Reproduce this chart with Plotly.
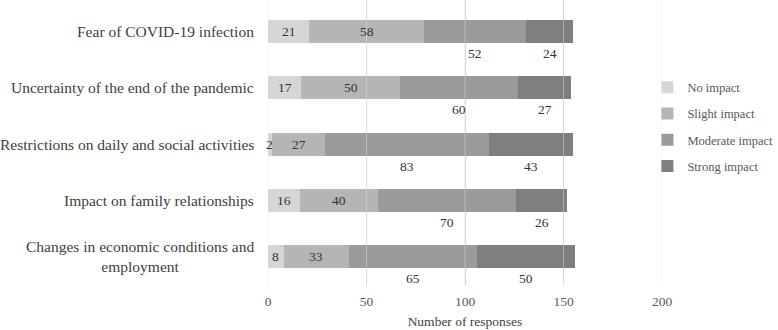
import plotly.graph_objects as go

categories = [
    "Fear of COVID-19 infection",
    "Uncertainty of the end of the pandemic",
    "Restrictions on daily and social activities",
    "Impact on family relationships",
    "Changes in economic conditions and<br>employment",
]
series_names = ["No impact", "Slight impact", "Moderate impact", "Strong impact"]
no_impact = [21, 17, 2, 16, 8]
slight_impact = [58, 50, 27, 40, 33]
moderate_impact = [52, 60, 83, 70, 65]
strong_impact = [24, 27, 43, 26, 50]
x_ticks = [0, 50, 100, 150, 200]

colors = ["#d6d6d6", "#b5b5b5", "#9b9b9b", "#7f7f7f"]
values = [no_impact, slight_impact, moderate_impact, strong_impact]
FONT = "Liberation Serif, Times New Roman, serif"

fig = go.Figure()
for name, vals, col in zip(series_names, values, colors):
    fig.add_trace(go.Bar(
        y=categories, x=vals, name=name, orientation="h",
        marker=dict(color=col, line=dict(width=0)),
        legendgroup=name, width=0.41,
    ))

annotations = []
for i, cat in enumerate(categories):
    cum = 0
    for s, vals in enumerate(values):
        v = vals[i]
        center = cum + v / 2
        cum += v
        annotations.append(dict(
            x=center, y=cat, xref="x", yref="y", text=str(v), showarrow=False,
            font=dict(family=FONT, size=13.5, color="#333333"),
            yshift=0 if s < 2 else -22,
        ))
    annotations.append(dict(
        x=0, y=cat, xref="paper", yref="y", text=cat, showarrow=False,
        xanchor="right", align="center", xshift=-12,
        font=dict(family=FONT, size=15.5, color="#404040"),
    ))

# gridlines shown through the bars (drawn over the traces, semi-transparent)
shapes = [
    dict(type="line", xref="x", yref="paper", x0=t, x1=t, y0=0, y1=1,
         line=dict(color="rgba(217,217,217,0.5)", width=1), layer="above")
    for t in x_ticks
]

fig.update_layout(
    width=778, height=330,
    margin=dict(l=268, r=116, t=0, b=45, autoexpand=False),
    barmode="stack",
    bargap=0.59,
    plot_bgcolor="white", paper_bgcolor="white",
    font=dict(family=FONT, size=13.5, color="#595959"),
    xaxis=dict(
        range=[0, 200], tickvals=x_ticks, showgrid=True, gridcolor="#d9d9d9",
        gridwidth=1, zeroline=False, showline=False,
        ticks="", ticklabelstandoff=6,
        title=dict(text="Number of responses", standoff=9,
                   font=dict(family=FONT, size=13.5, color="#404040")),
        tickfont=dict(family=FONT, size=13.5, color="#595959"),
    ),
    yaxis=dict(
        autorange="reversed", showticklabels=False, showgrid=False,
        zeroline=False, showline=False, ticks="",
    ),
    legend=dict(
        x=0.963, xanchor="left", y=0.745, yanchor="top",
        traceorder="grouped", tracegroupgap=7, itemwidth=30,
        font=dict(family=FONT, size=12.5, color="#595959"),
        bgcolor="rgba(0,0,0,0)",
    ),
    shapes=shapes,
    annotations=annotations,
)

fig.write_html("out.html")
